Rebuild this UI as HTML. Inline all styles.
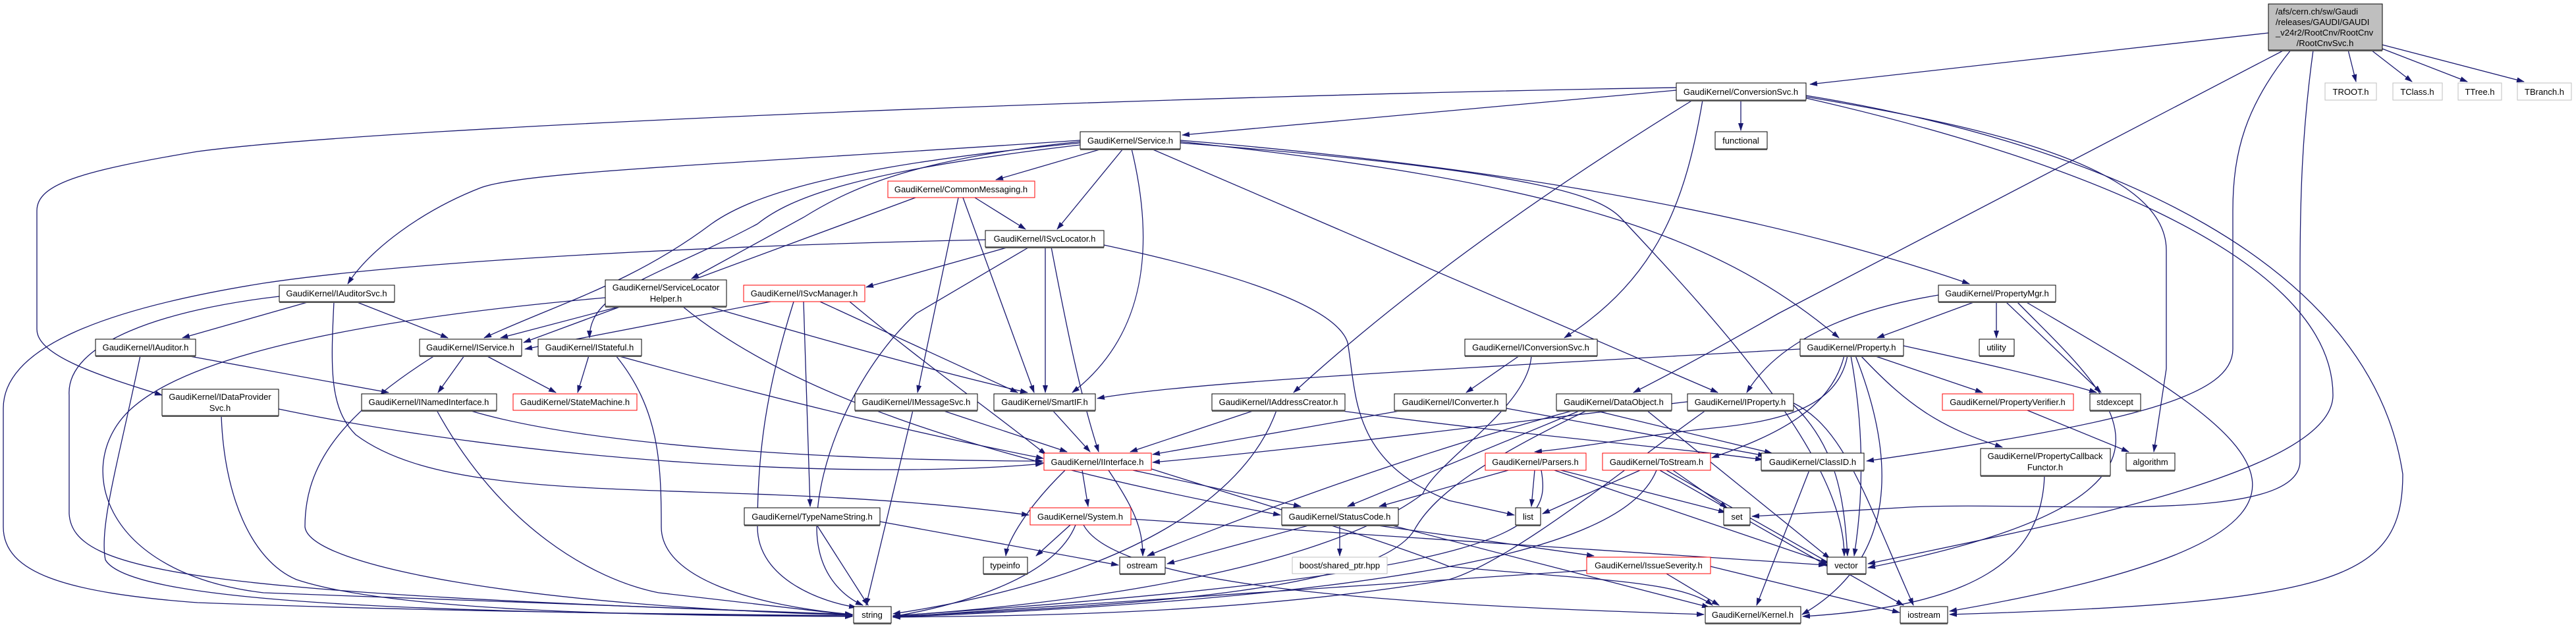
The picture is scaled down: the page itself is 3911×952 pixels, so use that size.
<!DOCTYPE html>
<html><head><meta charset="utf-8"><style>
html,body{margin:0;padding:0;background:#fff;}
svg{display:block;}
text{font-family:"Liberation Sans",Arial,sans-serif;font-size:13px;fill:#000;}
.e path{fill:none;stroke:#191970;stroke-width:1.3;marker-end:url(#a);}
.n rect{fill:#fff;stroke:#000;stroke-width:1;}
.n .r{stroke:#ff0000;}
.n .g{stroke:#bfbfbf;}
.n line{stroke:#555;stroke-width:2;}
</style></head><body>
<svg width="3911" height="952" viewBox="0 0 3911 952" xmlns="http://www.w3.org/2000/svg">
<defs><marker id="a" markerUnits="userSpaceOnUse" markerWidth="12" markerHeight="8" refX="11" refY="4" orient="auto"><path d="M0,0 L12,4 L0,8 z" fill="#191970"/></marker></defs>
<g class="e">
<path d="M3444 50 L2748 128"/>
<path d="M3565 76 L3577 124"/>
<path d="M3600 76 L3662 124"/>
<path d="M3617 74 L3746 124"/>
<path d="M3617 68 L3832 124"/>
<path d="M3468 76 L2700 476 Q2580 545 2480 596"/>
<path d="M3478 76 C3410 160 3390 230 3390 320 L3390 530 C3390 600 3250 640 2834 700"/>
<path d="M3512 76 C3495 200 3492 300 3492 420 L3492 700 C3492 800 3100 760 2900 770 L2660 784"/>
<path d="M2545 137 L1795 205"/>
<path d="M2545 133 C1800 145 600 190 300 230 C120 260 56 280 56 320 L56 500 C56 540 150 570 246 600"/>
<path d="M2570 152 Q2200 380 1964 596"/>
<path d="M2585 152 C2560 300 2520 420 2375 513"/>
<path d="M2643 152 L2643 198"/>
<path d="M2742 147 C3000 190 3289 250 3289 380 L3289 560 L3270 686"/>
<path d="M2742 149 C3100 230 3542 380 3542 600 C3542 720 3100 800 2836 856"/>
<path d="M2742 145 C3200 220 3600 400 3648 720 C3648 880 3550 915 2960 933"/>
<path d="M1673 226 L1512 273"/>
<path d="M1705 226 L1605 348"/>
<path d="M1718 226 C1748 350 1752 500 1628 596"/>
<path d="M1748 226 L2608 596"/>
<path d="M1792 213 C2300 255 2700 330 2990 431"/>
<path d="M1792 215 C2350 275 2600 350 2792 513"/>
<path d="M1792 217 C2350 260 2430 300 2460 330 C2620 500 2800 700 2800 844"/>
<path d="M1640 213 C1100 250 800 260 730 285 C640 320 560 380 528 431"/>
<path d="M1640 215 C1400 240 1300 280 1220 330 L1050 423"/>
<path d="M1640 217 C1300 250 1150 290 1080 340 C960 430 850 460 735 513"/>
<path d="M1640 220 C1300 260 1200 300 1150 340 C1000 420 895 440 895 513"/>
<path d="M1390 300 L795 520"/>
<path d="M1455 300 L1393 596"/>
<path d="M1462 300 L1570 596"/>
<path d="M1480 300 L1557 348"/>
<path d="M1532 375 L1315 436"/>
<path d="M1561 376 L1391 476 C1300 560 1240 700 1240 800 C1240 880 1290 910 1310 919"/>
<path d="M1587 375 L1587 596"/>
<path d="M1596 375 C1620 500 1640 600 1668 686"/>
<path d="M1676 372 C1900 420 2030 470 2046 520 C2060 600 2050 700 2200 760 L2299 782"/>
<path d="M1496 364 C1000 375 600 400 400 430 C150 470 5 530 5 620 L5 800 C5 870 100 900 300 915 C700 930 1100 933 1294 935"/>
<path d="M1170 458 L797 530"/>
<path d="M1220 458 L1230 769"/>
<path d="M1205 458 C1160 600 1150 700 1150 800 C1150 880 1250 915 1300 922"/>
<path d="M1245 458 L1545 596"/>
<path d="M1290 458 C1400 550 1500 620 1588 690"/>
<path d="M939 466 L760 513"/>
<path d="M919 452 C600 480 300 530 200 620 C110 700 150 870 400 900 L1294 933"/>
<path d="M1036 465 C1200 600 1500 700 1944 782"/>
<path d="M1078 466 Q1400 560 1560 596"/>
<path d="M470 458 L277 513"/>
<path d="M540 458 L680 513"/>
<path d="M424 450 C250 470 100 520 105 600 L105 780 C110 870 300 900 1294 933"/>
<path d="M507 458 C502 560 500 620 540 660 C700 780 1100 720 1562 782"/>
<path d="M283 540 L590 596"/>
<path d="M213 540 C180 700 150 800 160 850 C200 920 700 930 1294 936"/>
<path d="M705 540 L665 596"/>
<path d="M738 540 L844 596"/>
<path d="M660 540 C500 640 463 720 463 800 C470 860 800 920 1294 934"/>
<path d="M894 540 L877 596"/>
<path d="M935 540 C1000 620 1004 700 1004 800 C1004 880 1150 920 1294 933"/>
<path d="M937 540 Q1300 640 1584 696"/>
<path d="M423 621 C800 700 1300 730 1583 704"/>
<path d="M336 631 C340 750 380 850 450 880 C600 930 1000 935 1294 936"/>
<path d="M712 623 C900 680 1300 700 1583 700"/>
<path d="M663 623 C760 800 900 880 1000 900 L1294 934"/>
<path d="M1386 623 L1315 919"/>
<path d="M1430 623 L1620 686"/>
<path d="M1598 623 L1655 686"/>
<path d="M1905 623 L1716 686"/>
<path d="M2030 623 C2300 660 2550 680 2676 698"/>
<path d="M1938 623 C1890 760 1700 880 1356 932"/>
<path d="M2130 623 L1750 690"/>
<path d="M2287 620 L2680 692"/>
<path d="M2307 540 L2226 596"/>
<path d="M2325 540 C2320 620 2180 700 2160 750 C2000 870 1600 920 1356 935"/>
<path d="M2400 623 L2046 769"/>
<path d="M2420 623 L2690 688"/>
<path d="M2390 623 C2100 700 1800 820 1742 844"/>
<path d="M2410 623 C2250 700 2180 750 2150 800 C2100 900 1700 920 1356 936"/>
<path d="M2500 623 L2778 848"/>
<path d="M2562 610 C2300 640 2000 680 1750 702"/>
<path d="M2590 623 C2480 700 2300 850 2200 880 C1900 930 1600 935 1356 937"/>
<path d="M2723 612 C2800 650 2830 750 2905 919"/>
<path d="M2723 615 C2790 680 2800 760 2805 844"/>
<path d="M2733 530 C2200 560 1800 580 1666 605"/>
<path d="M2805 540 C2790 620 2700 640 2600 650 C2500 660 2400 680 2330 686"/>
<path d="M2800 540 C2780 620 2700 660 2599 695"/>
<path d="M2845 540 L3010 596"/>
<path d="M2890 525 C3050 560 3130 580 3183 596"/>
<path d="M2825 540 C2900 620 2950 650 3040 679"/>
<path d="M2810 540 C2830 650 2830 750 2815 844"/>
<path d="M2817 540 C2880 700 2880 850 2736 933"/>
<path d="M2999 458 L2850 513"/>
<path d="M3031 458 L3031 513"/>
<path d="M3045 458 L3190 596"/>
<path d="M2943 448 C2750 480 2680 550 2652 596"/>
<path d="M3062 458 C3200 600 3400 750 2836 862"/>
<path d="M3075 458 C3400 650 3700 800 2960 928"/>
<path d="M3078 623 L3232 686"/>
<path d="M3104 722 C3100 850 3000 920 2737 936"/>
<path d="M2747 714 L2667 919"/>
<path d="M1643 714 L1652 769"/>
<path d="M1720 714 L1975 769"/>
<path d="M1617 714 C1560 770 1530 820 1527 844"/>
<path d="M1683 714 C1720 770 1735 800 1735 844"/>
<path d="M1748 712 C1900 760 2100 820 2200 860 C2400 880 2550 880 2600 919"/>
<path d="M2290 714 L2094 769"/>
<path d="M2330 714 L2325 769"/>
<path d="M2340 714 C2355 800 2330 870 1356 935"/>
<path d="M2370 714 L2620 778"/>
<path d="M2360 714 L2775 855"/>
<path d="M2490 714 L2342 780"/>
<path d="M2515 714 C2480 800 2300 900 1356 937"/>
<path d="M2520 714 L2776 860"/>
<path d="M2530 714 L2890 919"/>
<path d="M2540 714 L2622 771"/>
<path d="M1625 797 L1573 844"/>
<path d="M1633 797 C1600 880 1450 920 1356 936"/>
<path d="M1645 797 C1700 900 2200 920 2587 933"/>
<path d="M1717 788 L2772 858"/>
<path d="M1240 797 L1318 919"/>
<path d="M1336 792 L1698 858"/>
<path d="M1990 797 L1772 856"/>
<path d="M2034 797 L2034 844"/>
<path d="M2085 797 L2420 844"/>
<path d="M2110 797 L2595 922"/>
<path d="M2410 866 L1356 937"/>
<path d="M2530 871 L2610 919"/>
<path d="M2597 860 L2884 930"/>
</g>
<g class="n">
<rect x="3444" y="6" width="173" height="70" style="fill:#bfbfbf"/><line x1="3444" y1="77" x2="3617" y2="77"/>
<text x="3455" y="22">/afs/cern.ch/sw/Gaudi</text>
<text x="3455" y="38">/releases/GAUDI/GAUDI</text>
<text x="3455" y="54">_v24r2/RootCnv/RootCnv</text>
<text x="3530" y="70" text-anchor="middle">/RootCnvSvc.h</text>

<rect class="g" x="3530" y="126" width="78" height="26"/><text x="3569" y="144" text-anchor="middle">TROOT.h</text>
<rect class="g" x="3633" y="126" width="75" height="26"/><text x="3670" y="144" text-anchor="middle">TClass.h</text>
<rect class="g" x="3732" y="126" width="66" height="26"/><text x="3765" y="144" text-anchor="middle">TTree.h</text>
<rect class="g" x="3822" y="126" width="82" height="26"/><text x="3863" y="144" text-anchor="middle">TBranch.h</text>
<rect class="g" x="1962" y="846" width="144" height="25"/><text x="2034" y="863" text-anchor="middle">boost/shared_ptr.hpp</text>

<rect x="2545" y="126" width="197" height="26"/><line x1="2545" y1="153" x2="2742" y2="153"/><text x="2643" y="144" text-anchor="middle">GaudiKernel/ConversionSvc.h</text>
<rect x="2604" y="200" width="79" height="26"/><line x1="2604" y1="227" x2="2683" y2="227"/><text x="2643" y="218" text-anchor="middle">functional</text>
<rect x="1640" y="200" width="152" height="26"/><line x1="1640" y1="227" x2="1792" y2="227"/><text x="1716" y="218" text-anchor="middle">GaudiKernel/Service.h</text>
<rect class="r" x="1348" y="275" width="223" height="25"/><text x="1459" y="292" text-anchor="middle">GaudiKernel/CommonMessaging.h</text>
<rect x="1496" y="350" width="180" height="25"/><line x1="1496" y1="376" x2="1676" y2="376"/><text x="1586" y="367" text-anchor="middle">GaudiKernel/ISvcLocator.h</text>
<rect x="424" y="433" width="175" height="25"/><line x1="424" y1="459" x2="599" y2="459"/><text x="511" y="450" text-anchor="middle">GaudiKernel/IAuditorSvc.h</text>
<rect x="919" y="425" width="184" height="40"/><line x1="919" y1="466" x2="1103" y2="466"/><text x="1011" y="441" text-anchor="middle">GaudiKernel/ServiceLocator</text><text x="1011" y="458" text-anchor="middle">Helper.h</text>
<rect class="r" x="1129" y="433" width="184" height="25"/><text x="1221" y="450" text-anchor="middle">GaudiKernel/ISvcManager.h</text>
<rect x="2943" y="433" width="178" height="25"/><line x1="2943" y1="459" x2="3121" y2="459"/><text x="3032" y="450" text-anchor="middle">GaudiKernel/PropertyMgr.h</text>

<rect x="145" y="515" width="152" height="25"/><line x1="145" y1="541" x2="297" y2="541"/><text x="221" y="532" text-anchor="middle">GaudiKernel/IAuditor.h</text>
<rect x="637" y="515" width="155" height="25"/><line x1="637" y1="541" x2="792" y2="541"/><text x="714" y="532" text-anchor="middle">GaudiKernel/IService.h</text>
<rect x="817" y="515" width="157" height="25"/><line x1="817" y1="541" x2="974" y2="541"/><text x="895" y="532" text-anchor="middle">GaudiKernel/IStateful.h</text>
<rect x="2224" y="515" width="201" height="25"/><line x1="2224" y1="541" x2="2425" y2="541"/><text x="2324" y="532" text-anchor="middle">GaudiKernel/IConversionSvc.h</text>
<rect x="2733" y="515" width="157" height="25"/><line x1="2733" y1="541" x2="2890" y2="541"/><text x="2811" y="532" text-anchor="middle">GaudiKernel/Property.h</text>
<rect x="3005" y="515" width="53" height="25"/><line x1="3005" y1="541" x2="3058" y2="541"/><text x="3031" y="532" text-anchor="middle">utility</text>

<rect x="246" y="591" width="177" height="40"/><line x1="246" y1="632" x2="423" y2="632"/><text x="334" y="607" text-anchor="middle">GaudiKernel/IDataProvider</text><text x="334" y="624" text-anchor="middle">Svc.h</text>
<rect x="549" y="598" width="205" height="25"/><line x1="549" y1="624" x2="754" y2="624"/><text x="651" y="615" text-anchor="middle">GaudiKernel/INamedInterface.h</text>
<rect class="r" x="779" y="598" width="188" height="25"/><text x="873" y="615" text-anchor="middle">GaudiKernel/StateMachine.h</text>
<rect x="1298" y="598" width="186" height="25"/><line x1="1298" y1="624" x2="1484" y2="624"/><text x="1391" y="615" text-anchor="middle">GaudiKernel/IMessageSvc.h</text>
<rect x="1509" y="598" width="154" height="25"/><line x1="1509" y1="624" x2="1663" y2="624"/><text x="1586" y="615" text-anchor="middle">GaudiKernel/SmartIF.h</text>
<rect x="1840" y="598" width="202" height="25"/><line x1="1840" y1="624" x2="2042" y2="624"/><text x="1941" y="615" text-anchor="middle">GaudiKernel/IAddressCreator.h</text>
<rect x="2117" y="598" width="170" height="25"/><line x1="2117" y1="624" x2="2287" y2="624"/><text x="2202" y="615" text-anchor="middle">GaudiKernel/IConverter.h</text>
<rect x="2363" y="598" width="175" height="25"/><line x1="2363" y1="624" x2="2538" y2="624"/><text x="2450" y="615" text-anchor="middle">GaudiKernel/DataObject.h</text>
<rect x="2562" y="598" width="161" height="25"/><line x1="2562" y1="624" x2="2723" y2="624"/><text x="2642" y="615" text-anchor="middle">GaudiKernel/IProperty.h</text>
<rect class="r" x="2949" y="598" width="199" height="25"/><text x="3048" y="615" text-anchor="middle">GaudiKernel/PropertyVerifier.h</text>
<rect x="3173" y="598" width="77" height="25"/><line x1="3173" y1="624" x2="3250" y2="624"/><text x="3211" y="615" text-anchor="middle">stdexcept</text>

<rect class="r" x="1585" y="688" width="163" height="26"/><text x="1666" y="706" text-anchor="middle">GaudiKernel/IInterface.h</text>
<rect class="r" x="2255" y="688" width="153" height="26"/><text x="2331" y="706" text-anchor="middle">GaudiKernel/Parsers.h</text>
<rect class="r" x="2433" y="688" width="164" height="26"/><text x="2515" y="706" text-anchor="middle">GaudiKernel/ToStream.h</text>
<rect x="2674" y="688" width="156" height="26"/><line x1="2674" y1="715" x2="2830" y2="715"/><text x="2752" y="706" text-anchor="middle">GaudiKernel/ClassID.h</text>
<rect x="3007" y="681" width="197" height="41"/><line x1="3007" y1="723" x2="3204" y2="723"/><text x="3105" y="697" text-anchor="middle">GaudiKernel/PropertyCallback</text><text x="3105" y="714" text-anchor="middle">Functor.h</text>
<rect x="3228" y="688" width="74" height="26"/><line x1="3228" y1="715" x2="3302" y2="715"/><text x="3265" y="706" text-anchor="middle">algorithm</text>

<rect x="1130" y="771" width="206" height="26"/><line x1="1130" y1="798" x2="1336" y2="798"/><text x="1233" y="789" text-anchor="middle">GaudiKernel/TypeNameString.h</text>
<rect class="r" x="1564" y="771" width="153" height="26"/><text x="1640" y="789" text-anchor="middle">GaudiKernel/System.h</text>
<rect x="1946" y="771" width="177" height="26"/><line x1="1946" y1="798" x2="2123" y2="798"/><text x="2034" y="789" text-anchor="middle">GaudiKernel/StatusCode.h</text>
<rect x="2301" y="771" width="38" height="26"/><line x1="2301" y1="798" x2="2339" y2="798"/><text x="2320" y="789" text-anchor="middle">list</text>
<rect x="2617" y="771" width="40" height="26"/><line x1="2617" y1="798" x2="2657" y2="798"/><text x="2637" y="789" text-anchor="middle">set</text>

<rect x="1493" y="846" width="67" height="25"/><line x1="1493" y1="872" x2="1560" y2="872"/><text x="1526" y="863" text-anchor="middle">typeinfo</text>
<rect x="1700" y="846" width="69" height="25"/><line x1="1700" y1="872" x2="1769" y2="872"/><text x="1734" y="863" text-anchor="middle">ostream</text>
<rect class="r" x="2409" y="846" width="188" height="25"/><text x="2503" y="863" text-anchor="middle">GaudiKernel/IssueSeverity.h</text>
<rect x="2774" y="846" width="59" height="25"/><line x1="2774" y1="872" x2="2833" y2="872"/><text x="2803" y="863" text-anchor="middle">vector</text>

<rect x="1296" y="921" width="57" height="25"/><line x1="1296" y1="947" x2="1353" y2="947"/><text x="1324" y="938" text-anchor="middle">string</text>
<rect x="2589" y="921" width="145" height="25"/><line x1="2589" y1="947" x2="2734" y2="947"/><text x="2661" y="938" text-anchor="middle">GaudiKernel/Kernel.h</text>
<rect x="2885" y="921" width="72" height="25"/><line x1="2885" y1="947" x2="2957" y2="947"/><text x="2921" y="938" text-anchor="middle">iostream</text>
</g>
</svg>
</body></html>
